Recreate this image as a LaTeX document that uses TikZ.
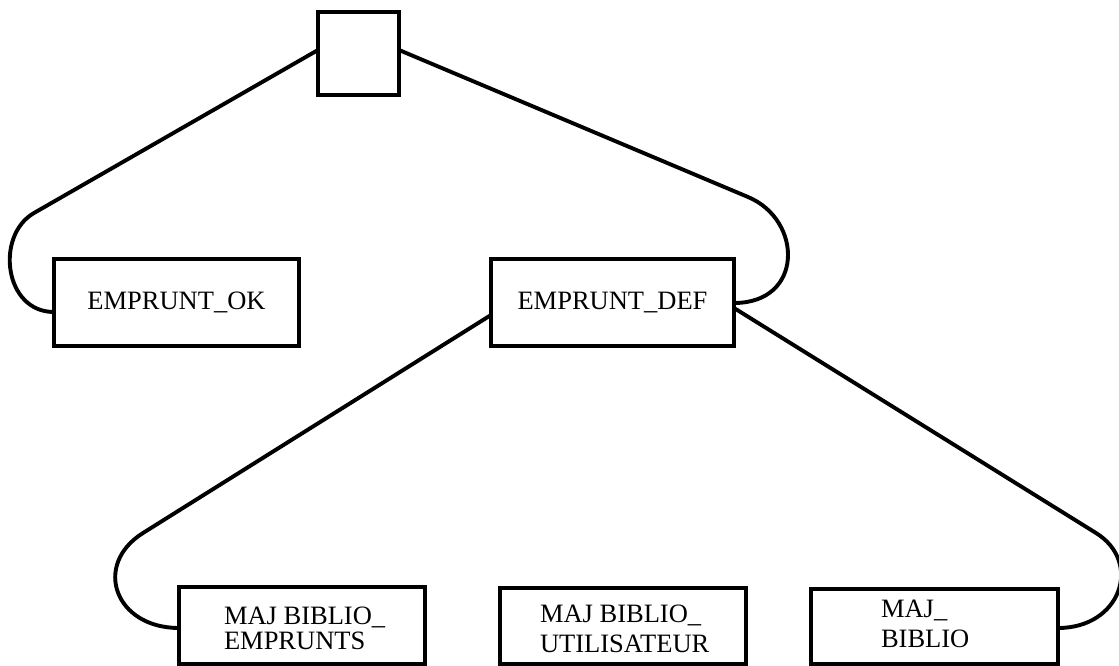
\documentclass[tikz,border=0pt]{standalone}
\usepackage{fontspec}
\setmainfont{Liberation Serif}
\begin{document}
\begin{tikzpicture}[x=1pt,y=-1pt,
  box/.style={draw, line width=3.6pt, inner sep=0pt, outer sep=0pt,
              font=\fontsize{26.5}{30}\selectfont},
  lbl/.style={inner sep=0pt, outer sep=0pt, align=left, anchor=north west,
              font=\fontsize{26.5}{30}\selectfont},
  link/.style={line width=3.9pt, line join=round, line cap=round}]
\fill[white] (0,0) rectangle (1119,666);
\useasboundingbox (0,0) rectangle (1119,666);

% boxes
\node[box, minimum width=81pt,  minimum height=83pt] (root) at (358.5,53.5) {};
\node[box, minimum width=245pt, minimum height=87pt] (ok)   at (176.5,302.5) {EMPRUNT\_OK};
\node[box, minimum width=243pt, minimum height=87pt] (def)  at (612.5,302.5) {EMPRUNT\_DEF};
\node[box, minimum width=246pt, minimum height=77pt] (m1)   at (302,625.5) {};
\node[box, minimum width=246pt, minimum height=76pt] (m2)   at (623,626) {};
\node[box, minimum width=247pt, minimum height=75pt] (m3)   at (934.5,626.5) {};

% two-line labels of the lower boxes
\node[lbl] (m1t) at (224,607) {MAJ BIBLIO\_\\[-5pt]EMPRUNTS};
\node[lbl] (m2t) at (540,605) {MAJ BIBLIO\_\\UTILISATEUR};
\node[lbl] (m3t) at (881,600) {MAJ\_\\BIBLIO};

% knees where the straight links turn into loops
\coordinate (kA) at (34,213);
\coordinate (kB) at (748,197);
\coordinate (kC) at (143,533);
\coordinate (kD) at (1096,533);

% links
\draw[link] ([yshift=3.5pt]root.west) -- (kA)
  .. controls (-5,235.4) and (4,312) .. ([yshift=-9.5pt]ok.west);
\draw[link] ([yshift=3.5pt]root.east) -- (kB)
  .. controls (803,220) and (804,303) .. ([yshift=-0.5pt]def.east);
\draw[link] ([yshift=-12.5pt]def.west) -- (kC)
  .. controls (92.2,564.9) and (115,628) .. ([yshift=-2.5pt]m1.west);
\draw[link] ([yshift=-5.5pt]def.east) -- (kD)
  .. controls (1142.7,562) and (1121,628) .. ([yshift=-1.5pt]m3.east);
\end{tikzpicture}
\end{document}
